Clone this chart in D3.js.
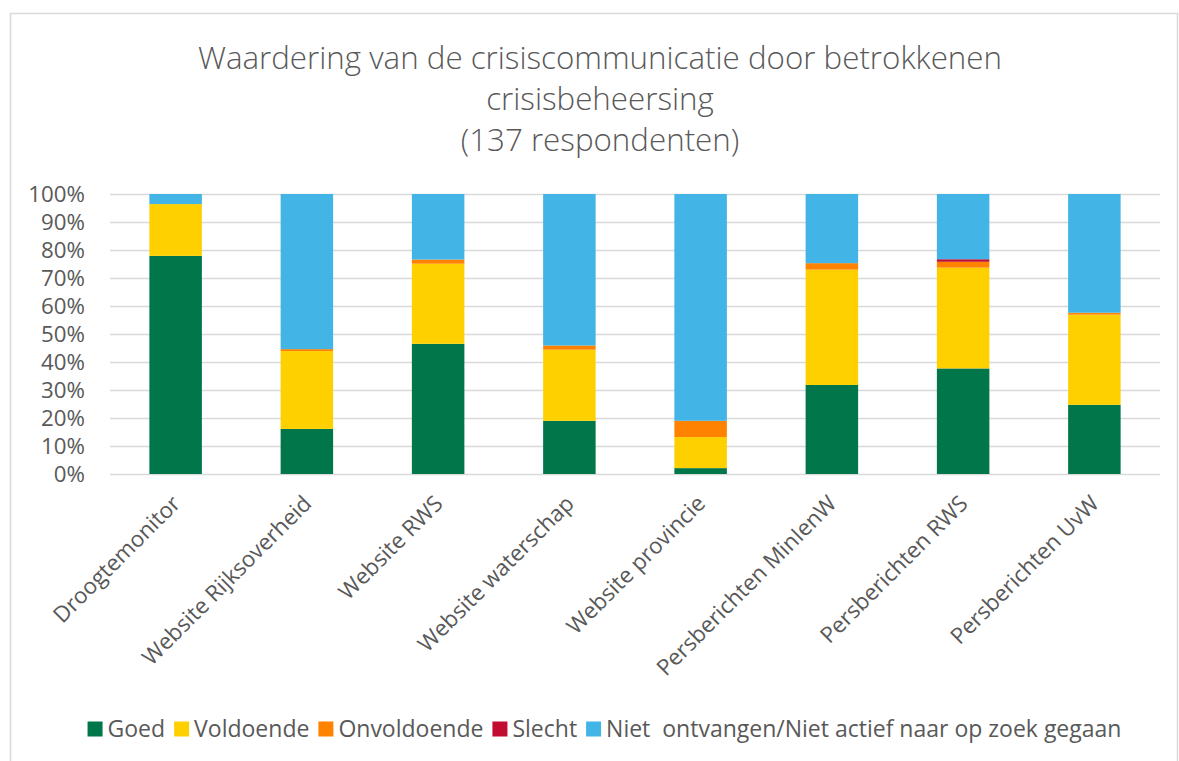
<!DOCTYPE html>
<html>
<head>
<meta charset="utf-8">
<script src="https://cdn.jsdelivr.net/npm/d3@7"></script>
<style>
  body { margin: 0; background: #fff; }
  svg text { font-family: "Open Sans", "Noto Sans", sans-serif; fill: #595959; }
</style>
</head>
<body>
<svg width="1179" height="761"></svg>
<script>
// Categories (x axis)
const categories = [
  'Droogtemonitor',
  'Website Rijksoverheid',
  'Website RWS',
  'Website waterschap',
  'Website provincie',
  'Persberichten MinIenW',
  'Persberichten RWS',
  'Persberichten UvW',
];

// Series values in percent
const goed        = [77.9, 16.1, 46.5, 19.0,  2.1, 31.8, 37.7, 24.7];
const voldoende   = [18.5, 27.8, 28.6, 25.4, 11.1, 41.2, 36.0, 32.2];
const onvoldoende = [ 0.0,  0.7,  1.5,  1.5,  5.8,  2.3,  2.1,  0.7];
const slecht      = [ 0.0,  0.0,  0.0,  0.0,  0.0,  0.0,  0.9,  0.0];
const niet        = [ 3.6, 55.4, 23.4, 54.1, 81.0, 24.7, 23.3, 42.4];

const seriesNames = ['Goed', 'Voldoende', 'Onvoldoende', 'Slecht', 'Niet  ontvangen/Niet actief naar op zoek gegaan'];
const seriesColors = ['#00764a', '#ffd000', '#ff8300', '#c00d31', '#42b4e6'];
const yTicks = [0, 10, 20, 30, 40, 50, 60, 70, 80, 90, 100];
const titleLines = [
  'Waardering van de crisiscommunicatie door betrokkenen',
  'crisisbeheersing',
  '(137 respondenten)',
];

const svg = d3.select('svg');
const margin = {top: 194, right: 19, bottom: 287, left: 110};
const width = +svg.attr('width') - margin.left - margin.right;
const height = +svg.attr('height') - margin.top - margin.bottom;
const labelSize = 22.3;

// Chart border
svg.append('rect')
  .attr('x', 10.5).attr('y', 13.5)
  .attr('width', 1167).attr('height', 760)
  .attr('fill', 'none')
  .attr('stroke', '#d9d9d9')
  .attr('stroke-width', 1.5);

// Title
svg.append('g')
  .attr('class', 'title')
  .selectAll('text')
  .data(titleLines)
  .enter()
  .append('text')
    .attr('x', 600)
    .attr('y', (d, i) => 69 + i * 41)
    .attr('text-anchor', 'middle')
    .attr('font-size', 31.3)
    .attr('font-weight', 300)
    .text((d) => d);

const table = categories.map((c, i) => ({
  cat: c,
  Goed: goed[i],
  Voldoende: voldoende[i],
  Onvoldoende: onvoldoende[i],
  Slecht: slecht[i],
  Niet: niet[i],
}));
const keys = ['Goed', 'Voldoende', 'Onvoldoende', 'Slecht', 'Niet'];
const stacked = d3.stack().keys(keys)(table);

const x = d3.scaleBand()
  .domain(categories)
  .range([0, width])
  .paddingInner(0.6)
  .paddingOuter(0.3);

const y = d3.scaleLinear()
  .domain([0, 100])
  .range([height, 0]);

const chart = svg.append('g')
  .attr('transform', `translate(${margin.left}, ${margin.top})`);

// Gridlines
chart.append('g')
  .attr('class', 'grid')
  .selectAll('line')
  .data(yTicks)
  .enter()
  .append('line')
    .attr('x1', 0)
    .attr('x2', width)
    .attr('y1', (d) => y(d) + .5)
    .attr('y2', (d) => y(d) + .5)
    .attr('stroke', '#d9d9d9')
    .attr('stroke-width', 1.5);

// Y axis labels
const yAxis = d3.axisLeft(y)
  .tickValues(yTicks)
  .tickFormat((d) => d + '%')
  .tickSize(0)
  .tickPadding(25);

chart.append('g')
  .attr('class', 'axis axis--y')
  .call(yAxis)
  .call((g) => g.select('.domain').remove())
  .call((g) => g.selectAll('text')
    .attr('font-size', labelSize)
    .attr('fill', '#595959')
    .style('font-family', '"Open Sans", sans-serif'));

// Bars
chart.append('g')
  .selectAll('g')
  .data(stacked)
  .enter()
  .append('g')
    .attr('fill', (d, i) => seriesColors[i])
  .selectAll('rect')
  .data((d) => d)
  .enter()
  .append('rect')
    .attr('x', (d) => x(d.data.cat))
    .attr('y', (d) => y(d[1]))
    .attr('width', x.bandwidth())
    .attr('height', (d) => y(d[0]) - y(d[1]));

// X axis labels (rotated)
const xAxis = d3.axisBottom(x)
  .tickSize(0)
  .tickPadding(0);

chart.append('g')
  .attr('class', 'axis axis--x')
  .attr('transform', `translate(0, ${height})`)
  .call(xAxis)
  .call((g) => g.select('.domain').remove())
  .call((g) => g.selectAll('text')
    .attr('font-size', labelSize)
    .attr('fill', '#595959')
    .style('font-family', '"Open Sans", sans-serif')
    .attr('text-anchor', 'end')
    .attr('dy', null)
    .attr('y', 0)
    .attr('transform', 'translate(6, 31) rotate(-45)'));

// Legend
const legend = svg.append('g').attr('class', 'legend');
let lx = 0;
seriesNames.forEach((name, i) => {
  const item = legend.append('g').attr('transform', `translate(${lx}, 0)`);
  item.append('rect')
    .attr('x', 0).attr('y', -7.5)
    .attr('width', 15).attr('height', 15)
    .attr('fill', seriesColors[i]);
  const t = item.append('text')
    .attr('x', 20)
    .attr('dy', '0.35em')
    .attr('font-size', 23)
    .style('white-space', 'pre')
    .text(name);
  lx += 20 + t.node().getComputedTextLength() + 9;
});
const legendWidth = lx - 9;
legend.attr('transform', `translate(${(81 + 1128) / 2 - legendWidth / 2}, 729)`);
</script>
</body>
</html>
